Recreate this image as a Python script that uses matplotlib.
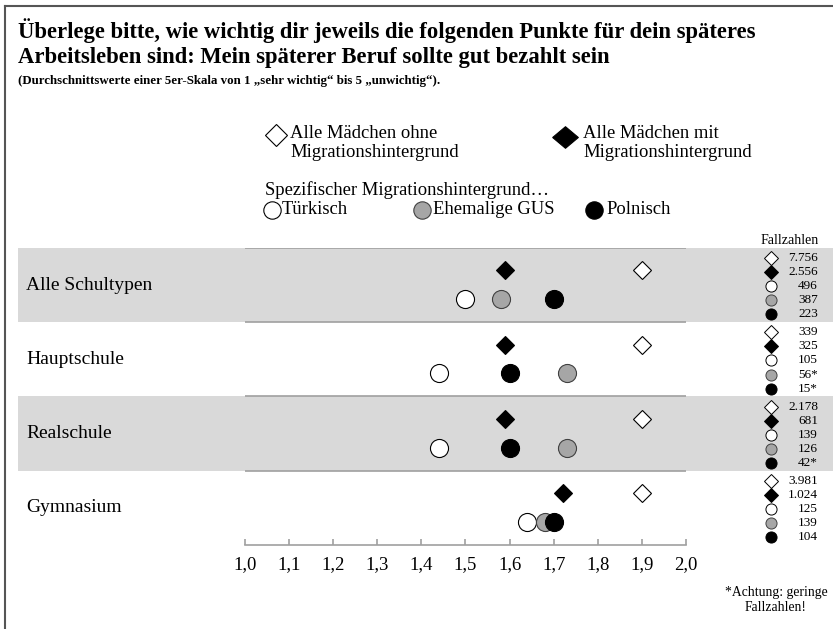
import matplotlib.pyplot as plt
from matplotlib.lines import Line2D
from matplotlib.patches import Rectangle
from matplotlib.transforms import blended_transform_factory
import numpy as np

plt.rcParams['font.family'] = ['Liberation Serif', 'DejaVu Serif']

# mean ratings per school type (scale 1 = very important ... 5 = unimportant)
schools = ["Alle Schultypen", "Hauptschule", "Realschule", "Gymnasium"]
ohne_mh = [1.90, 1.90, 1.90, 1.90]
mit_mh = [1.59, 1.59, 1.59, 1.72]
tuerkisch = [1.50, 1.44, 1.44, 1.64]
ehem_gus = [1.58, 1.73, 1.73, 1.68]
polnisch = [1.70, 1.60, 1.60, 1.70]

# case numbers, same order as the groups above
fallzahlen = [
    ["7.756", "2.556", "496", "387", "223"],
    ["339", "325", "105", "56*", "15*"],
    ["2.178", "681", "139", "126", "42*"],
    ["3.981", "1.024", "125", "139", "104"],
]

xticks = np.arange(1.0, 2.01, 0.1)
xticklabels = ["1,0", "1,1", "1,2", "1,3", "1,4", "1,5", "1,6", "1,7", "1,8", "1,9", "2,0"]

W, H = 833, 629
fig = plt.figure(figsize=(W / 100, H / 100), dpi=100)


def fx(px):
    return px / W


def fy(py):
    return 1 - py / H


GREY = "#a6a6a6"

ax = fig.add_axes([fx(245), fy(545), fx(686) - fx(245), fy(248) - fy(545)])
ax.patch.set_alpha(0)
ax.set_xlim(1.0, 2.0)
ax.set_ylim(4, 0)
for s in ["top", "left", "right"]:
    ax.spines[s].set_visible(False)
ax.spines["bottom"].set_color("#a0a0a0")
ax.spines["bottom"].set_linewidth(1.2)
ax.set_yticks([])
ax.set_xticks(xticks)
ax.set_xticklabels(xticklabels, fontsize=13.5)
ax.tick_params(axis="x", direction="in", length=4, color="#a0a0a0", width=1.2, pad=8)

rows = np.arange(len(schools))
band_tr = blended_transform_factory(fig.transFigure, ax.transData)

# alternating grey bands across the whole width
for i in rows:
    if i % 2 == 0:
        ax.add_patch(Rectangle((fx(18), i), 1 - fx(18), 1, transform=band_tr,
                               facecolor="#d9d9d9", edgecolor="none", zorder=0, clip_on=False))
    ax.axhline(i, color="#a0a0a0", lw=1.2, zorder=1)
    ax.text(fx(26), i + 0.5, schools[i], transform=band_tr, fontsize=14,
            va="center", ha="left")

y_dia = rows + 0.30
y_cir = rows + 0.69
ax.plot(ohne_mh, y_dia, ls="none", marker="D", ms=9, mfc="white", mec="black", mew=0.8, zorder=3)
ax.plot(mit_mh, y_dia, ls="none", marker="D", ms=9, mfc="black", mec="black", mew=0.8, zorder=3)
ax.plot(tuerkisch, y_cir, ls="none", marker="o", ms=13, mfc="white", mec="black", mew=0.8, zorder=3)
ax.plot(ehem_gus, y_cir, ls="none", marker="o", ms=13, mfc=GREY, mec="#404040", mew=0.8, zorder=4)
ax.plot(polnisch, y_cir, ls="none", marker="o", ms=13, mfc="black", mec="black", mew=0.8, zorder=5)

# case number column
styles = [("D", "white", 7), ("D", "black", 7), ("o", "white", 8), ("o", GREY, 8), ("o", "black", 8)]
fig.text(fx(790), fy(241), "Fallzahlen", fontsize=10, ha="center", va="center")
for i in rows:
    for j, (m, c, ms) in enumerate(styles):
        yy = i + 0.135 + j * 0.19
        ax.plot([fx(771)], [yy], transform=band_tr, ls="none", marker=m, ms=ms,
                mfc=c, mec="#404040" if c == GREY else "black", mew=0.7, clip_on=False, zorder=3)
        ax.text(fx(818), yy, fallzahlen[i][j], transform=band_tr, fontsize=9.5,
                ha="right", va="center")

fig.text(fx(776), fy(600), "*Achtung: geringe\nFallzahlen!", fontsize=9.8, ha="center",
         va="center", linespacing=1.2)

# title
fig.text(fx(18), fy(31), "Überlege bitte, wie wichtig dir jeweils die folgenden Punkte für dein späteres",
         fontsize=16.3, fontweight="bold", va="center", ha="left")
fig.text(fx(18), fy(58), "Arbeitsleben sind: Mein späterer Beruf sollte gut bezahlt sein",
         fontsize=16.3, fontweight="bold", va="center", ha="left")
fig.text(fx(18), fy(81), "(Durchschnittswerte einer 5er-Skala von 1 „sehr wichtig“ bis 5 „unwichtig“).",
         fontsize=9.3, fontweight="bold", va="center", ha="left")


# legend
def fig_marker(px, py, marker, ms, fc, ec="black"):
    fig.add_artist(Line2D([fx(px)], [fy(py)], transform=fig.transFigure, ls="none",
                          marker=marker, ms=ms, mfc=fc, mec=ec, mew=0.8))


wide_diamond = [(-1.19, 0), (0, 1), (1.19, 0), (0, -1), (-1.19, 0)]
fig_marker(276, 135, "D", 11.5, "white")
fig.text(fx(290), fy(143), "Alle Mädchen ohne\nMigrationshintergrund", fontsize=13.4,
         va="center", ha="left", linespacing=1.15)
fig_marker(565, 137, wide_diamond, 18.5, "black")
fig.text(fx(583), fy(143), "Alle Mädchen mit\nMigrationshintergrund", fontsize=13.4,
         va="center", ha="left", linespacing=1.15)
fig.text(fx(265), fy(190), "Spezifischer Migrationshintergrund…", fontsize=13.4, va="center", ha="left")
fig_marker(272, 210, "o", 12.5, "white")
fig.text(fx(282), fy(210), "Türkisch", fontsize=13.4, va="center", ha="left")
fig_marker(422, 210, "o", 12.5, GREY, "#404040")
fig.text(fx(433), fy(210), "Ehemalige GUS", fontsize=13.4, va="center", ha="left")
fig_marker(594, 210, "o", 12.5, "black")
fig.text(fx(606), fy(210), "Polnisch", fontsize=13.4, va="center", ha="left")

# outer frame (top and left)
fig.add_artist(Line2D([fx(5), 1], [fy(6), fy(6)], transform=fig.transFigure, color="#555555", lw=1.5))
fig.add_artist(Line2D([fx(5), fx(5)], [fy(6), 0], transform=fig.transFigure, color="#555555", lw=1.5))

fig.savefig("out.png", dpi=100)
